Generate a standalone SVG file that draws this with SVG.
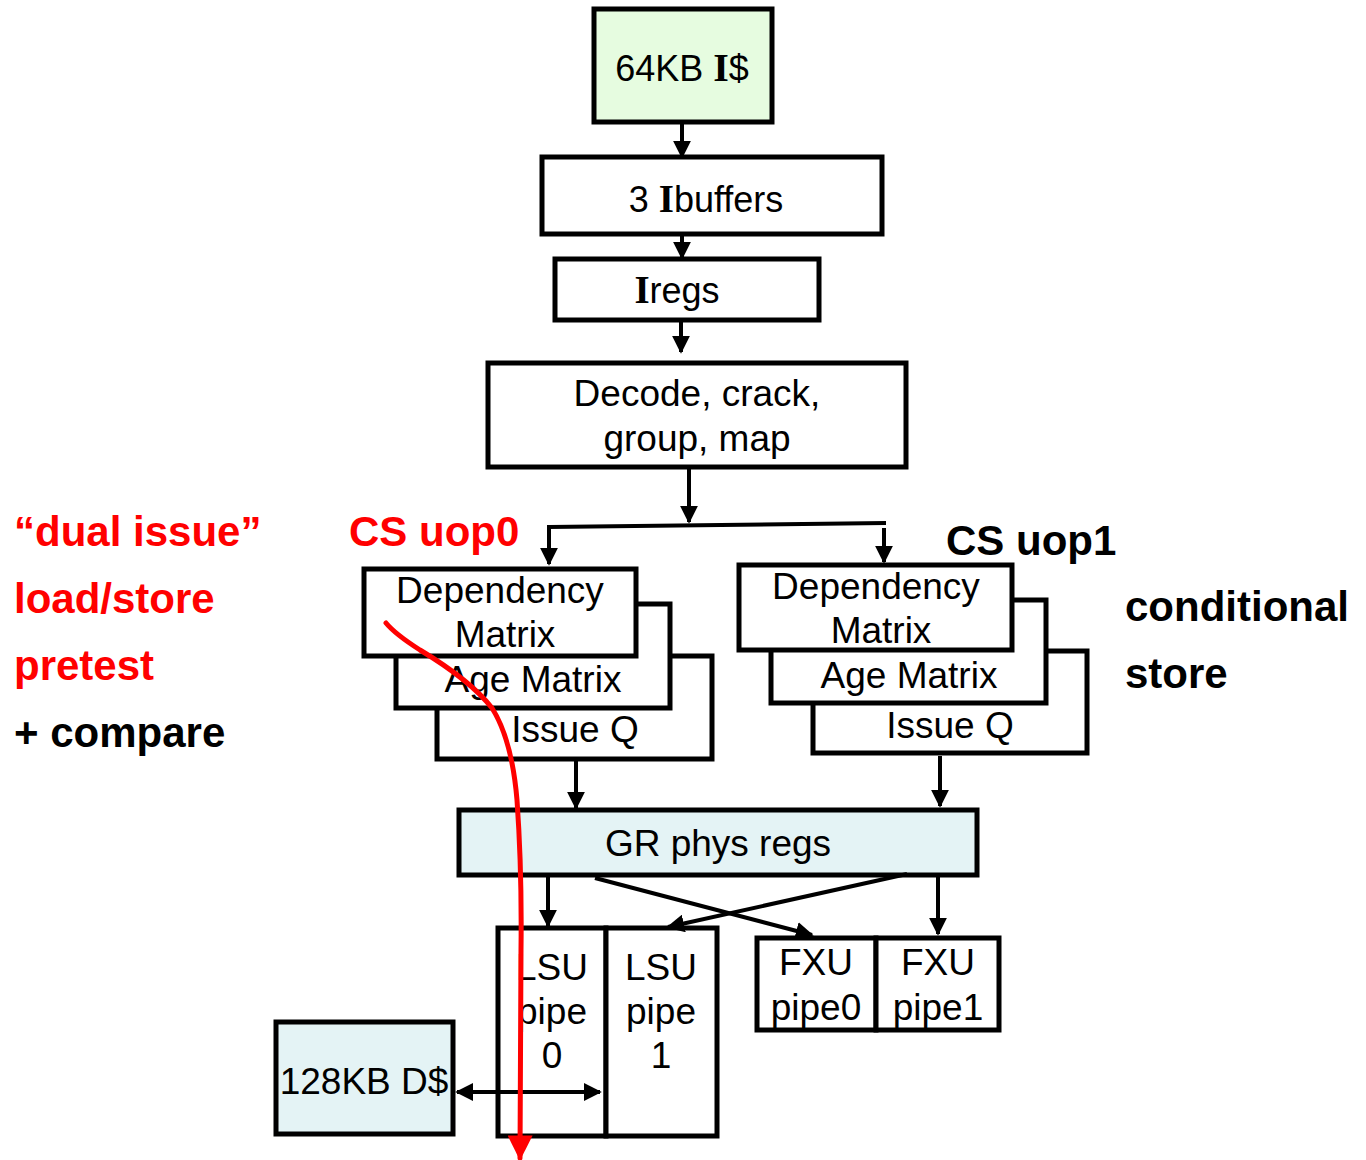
<svg xmlns="http://www.w3.org/2000/svg" width="1366" height="1160" viewBox="0 0 1366 1160">
<defs>
<style>
.box{fill:#fff;stroke:#000;stroke-width:5}
.t{font-family:"Liberation Sans",Arial,sans-serif;font-size:37px;fill:#000;text-anchor:middle}
.s{font-family:"Liberation Serif","Times New Roman",serif;font-weight:bold}
.b{font-family:"Liberation Sans",Arial,sans-serif;font-size:42px;font-weight:bold}
.red{fill:#ff0000}
.c{stroke:#000;stroke-width:4;fill:none}
</style>
<marker id="ah" viewBox="0 0 10 10" refX="9" refY="5" markerWidth="4.5" markerHeight="4.5" orient="auto-start-reverse" markerUnits="strokeWidth">
<path d="M0,0 L10,5 L0,10 z" fill="#000"/>
</marker>
<marker id="ahr" viewBox="0 0 10 10" refX="9" refY="5" markerWidth="6" markerHeight="5" orient="auto" markerUnits="strokeWidth">
<path d="M0,0 L10,5 L0,10 z" fill="#ff0000"/>
</marker>
</defs>

<g id="icache">
<rect class="box" x="594" y="9" width="178" height="113" style="fill:#e6fce0"/>
<text class="t" x="682" y="81" style="font-size:36px">64KB <tspan class="s" style="font-size:40px">I</tspan>$</text>
</g>
<g id="ibuffers">
<rect class="box" x="542" y="157" width="340" height="77"/>
<text class="t" x="706" y="212" style="font-size:36px">3 <tspan class="s" style="font-size:39px">I</tspan>buffers</text>
</g>
<g id="iregs">
<rect class="box" x="555" y="259" width="264" height="61"/>
<text class="t" x="677" y="303" style="font-size:36px"><tspan class="s" style="font-size:39px">I</tspan>regs</text>
</g>
<g id="decode">
<rect class="box" x="488" y="363" width="418" height="104"/>
<text class="t" x="697" y="406">Decode, crack,</text>
<text class="t" x="697" y="451">group, map</text>
</g>

<g id="uop0-stack">
<rect class="box" x="437" y="656" width="275" height="103"/>
<text class="t" x="575" y="742">Issue Q</text>
<rect class="box" x="396" y="604" width="274" height="104"/>
<text class="t" x="533" y="692">Age Matrix</text>
<rect class="box" x="364" y="569" width="272" height="87"/>
<text class="t" x="500" y="603">Dependency</text>
<text class="t" x="505" y="647">Matrix</text>
</g>

<g id="uop1-stack">
<rect class="box" x="813" y="651" width="274" height="102"/>
<text class="t" x="950" y="738">Issue Q</text>
<rect class="box" x="771" y="600" width="275" height="103"/>
<text class="t" x="909" y="688">Age Matrix</text>
<rect class="box" x="739" y="565" width="273" height="85"/>
<text class="t" x="876" y="599">Dependency</text>
<text class="t" x="881" y="643">Matrix</text>
</g>

<g id="gr-regs">
<rect class="box" x="459" y="810" width="518" height="65" style="fill:#e4f3f5"/>
<text class="t" x="718" y="856">GR phys regs</text>
</g>

<g id="lsu0">
<rect class="box" x="498" y="928" width="108" height="208"/>
<text class="t" x="552" y="980">LSU</text>
<text class="t" x="552" y="1024">pipe</text>
<text class="t" x="552" y="1068">0</text>
</g>
<g id="lsu1">
<rect class="box" x="606" y="928" width="111" height="208"/>
<text class="t" x="661" y="980">LSU</text>
<text class="t" x="661" y="1024">pipe</text>
<text class="t" x="661" y="1068">1</text>
</g>
<g id="fxu0">
<rect class="box" x="757" y="938" width="119" height="92"/>
<text class="t" x="816" y="975">FXU</text>
<text class="t" x="816" y="1020">pipe0</text>
</g>
<g id="fxu1">
<rect class="box" x="876" y="938" width="123" height="92"/>
<text class="t" x="938" y="975">FXU</text>
<text class="t" x="938" y="1020">pipe1</text>
</g>
<g id="dcache">
<rect class="box" x="276" y="1022" width="177" height="112" style="fill:#e4f3f5"/>
<text class="t" x="364" y="1094">128KB D$</text>
</g>

<g id="connectors">
<line class="c" x1="682" y1="124" x2="682" y2="157" marker-end="url(#ah)"/>
<line class="c" x1="682" y1="236" x2="682" y2="258" marker-end="url(#ah)"/>
<line class="c" x1="681" y1="322" x2="681" y2="352" marker-end="url(#ah)"/>
<line class="c" x1="689" y1="469" x2="689" y2="522" marker-end="url(#ah)"/>
<polyline class="c" points="549,527 886,523"/>
<line class="c" x1="549" y1="525" x2="549" y2="564" marker-end="url(#ah)"/>
<line class="c" x1="884" y1="528" x2="884" y2="562" marker-end="url(#ah)"/>
<line class="c" x1="576" y1="761" x2="576" y2="808" marker-end="url(#ah)"/>
<line class="c" x1="940" y1="756" x2="940" y2="806" marker-end="url(#ah)"/>
<line class="c" x1="548" y1="877" x2="548" y2="926" marker-end="url(#ah)"/>
<line class="c" x1="938" y1="877" x2="938" y2="934" marker-end="url(#ah)"/>
<line class="c" x1="595" y1="878" x2="812" y2="935" marker-end="url(#ah)"/>
<line class="c" x1="907" y1="874" x2="668" y2="927" marker-end="url(#ah)"/>
<line class="c" x1="457" y1="1092" x2="600" y2="1092" marker-start="url(#ah)" marker-end="url(#ah)"/>
</g>

<g id="annotations">
<text class="b red" x="14" y="546">“dual issue”</text>
<text class="b red" x="14" y="613">load/store</text>
<text class="b red" x="14" y="680">pretest</text>
<text class="b" x="14" y="747">+ compare</text>
<text class="b red" x="349" y="546">CS uop0</text>
<text class="b" x="946" y="555">CS uop1</text>
<text class="b" x="1125" y="621">conditional</text>
<text class="b" x="1125" y="688">store</text>
<path d="M386,623 Q395,634 420,650 Q470,680 492,708 Q512,740 517,800 Q522,870 521,950 L520,1158" fill="none" stroke="#ff0000" stroke-width="5" stroke-linecap="round" marker-end="url(#ahr)"/>
</g>
</svg>
